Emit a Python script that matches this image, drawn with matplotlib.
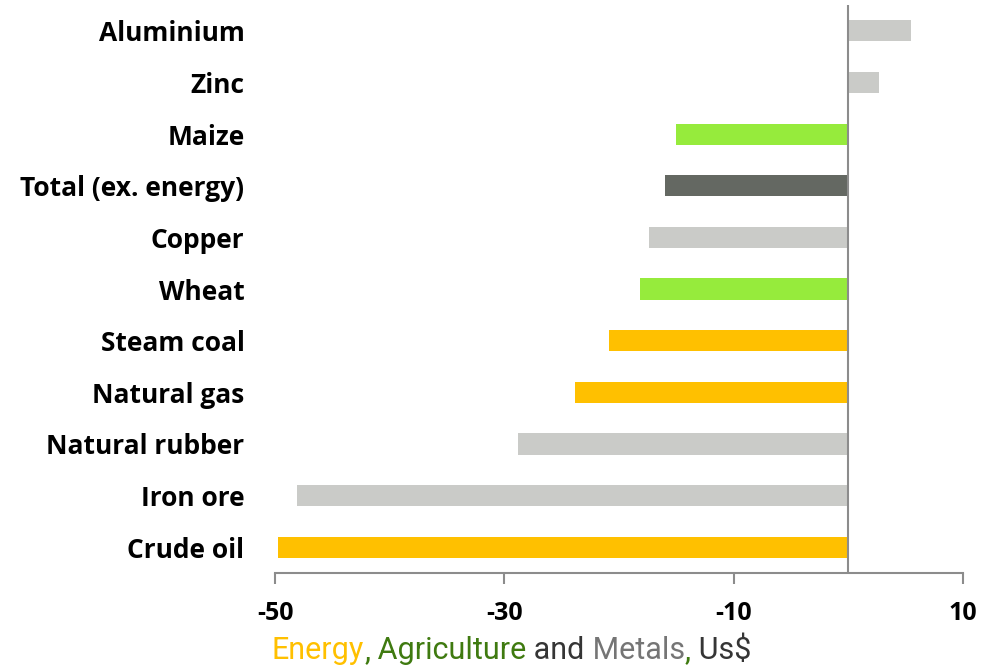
import matplotlib
matplotlib.use("Agg")
import matplotlib.pyplot as plt

# commodity price changes, % (bottom to top)
names = ["Crude oil", "Iron ore", "Natural rubber", "Natural gas", "Steam coal",
         "Wheat", "Copper", "Total (ex. energy)", "Maize", "Zinc", "Aluminium"]
changes = [-49.7, -48.1, -28.8, -23.8, -20.9, -18.2, -17.4, -16.0, -15.0, 2.7, 5.5]
groups = ["energy", "metals", "metals", "energy", "energy",
          "agri", "metals", "total", "agri", "metals", "metals"]
xticks = [-50, -30, -10, 10]

colours = {"energy": "#FFC000", "agri": "#96EB3C", "metals": "#CACBC8", "total": "#646862"}

plt.rcParams['font.family'] = ['Open Sans', 'DejaVu Sans']

fig = plt.figure(figsize=(9.98, 6.71), dpi=100)
ax = fig.add_axes([0.2756, 0.146, 0.6894, 0.8465])

ypos = list(range(len(names)))
ax.barh(ypos, changes, height=0.41, color=[colours[g] for g in groups])
ax.axvline(0, color="#8C8C8C", lw=1.5)

ax.set_xlim(-50, 10)
ax.set_ylim(-0.5, len(names) - 0.5)
ax.set_xticks(xticks)
ax.set_xticklabels([str(t) for t in xticks], fontsize=18, fontweight="bold")
ax.set_yticks(ypos)
ax.set_yticklabels(names, fontsize=19, fontweight="bold")

for s in ["top", "right", "left"]:
    ax.spines[s].set_visible(False)
ax.spines["bottom"].set_color("#8C8C8C")
ax.spines["bottom"].set_linewidth(1.5)
ax.tick_params(axis="x", length=8, width=1.5, color="#8C8C8C", pad=12)
ax.tick_params(axis="y", length=0, pad=22)

# multicoloured caption under the axis
pieces = [("Energy", "#FFC000"), (",", "#3F7A10"), (" Agriculture", "#3F7A10"),
          (" and", "#353535"), (" Metals", "#757575"), (",", "#3F7A10"), (" Us$", "#353535")]
fig.canvas.draw()
renderer = fig.canvas.get_renderer()
x = 272 / 998
for txt, col in pieces:
    t = fig.text(x, 1 - 659 / 671, txt, color=col, fontsize=22, va="baseline", ha="left",
                 family=['Roboto', 'DejaVu Sans'])
    bb = t.get_window_extent(renderer)
    x = bb.x1 / fig.bbox.width

fig.savefig("out.png", dpi=100)
